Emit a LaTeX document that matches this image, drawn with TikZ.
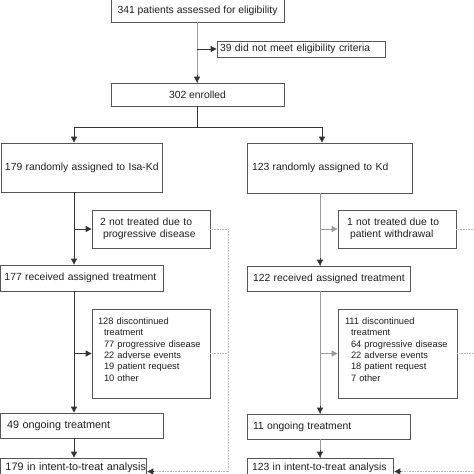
\documentclass[tikz,border=0pt]{standalone}
\usepackage{fontspec}
\setmainfont{Liberation Sans}
\usetikzlibrary{arrows.meta,calc}
\definecolor{boxc}{HTML}{555555}
\definecolor{txtc}{HTML}{1E1E1E}
\definecolor{darkl}{HTML}{333333}
\definecolor{lightl}{HTML}{9A9A9A}
\definecolor{dotl}{HTML}{BBBBBB}
\newcommand\flowboxfont{\fontsize{10.35}{12.6}\selectfont\hyphenpenalty=10000 \exhyphenpenalty=10000 }
\newcommand\smallboxfont{\fontsize{9.3}{11.35}\selectfont}
\newcommand\largeboxfont{\fontsize{10.8}{12.6}\selectfont}
\begin{document}
\begin{tikzpicture}[x=1pt,y=-1pt,
  box/.style={draw=boxc, line width=0.8pt, rectangle, inner ysep=0pt,
    text=txtc, font=\flowboxfont},
  lbox/.style={box, align=left, inner xsep=0pt},
  cbox/.style={box, align=center},
  sbox/.style={lbox, font=\flowboxfont\smallboxfont},
  bbox/.style={lbox, font=\flowboxfont\largeboxfont},
  conn/.style={draw=darkl, line width=0.9pt},
  gconn/.style={draw=lightl, line width=0.9pt},
  dconn/.style={draw=dotl, line width=0.6pt, densely dotted},
  tip/.style={-{Triangle[length=6pt,width=6pt]}},
]
\useasboundingbox (0,0) rectangle (474,474);
\fill[white] (0,0) rectangle (474,474);

% boxes (center = ((l+r)/2,(t+b)/2)); text width = box width
\node[cbox, minimum width=173pt, minimum height=23pt] (A) at (197.5,10.5) {341 patients assessed for eligibility};
\node[lbox, text width=168pt, minimum height=16pt] (B) at (301,49) {\hspace*{3pt}39 did not meet eligibility criteria};
\node[cbox, minimum width=173pt, minimum height=23pt] (C) at (197.5,94.5) {302 enrolled};
\node[lbox, text width=161pt, minimum height=49pt] (D) at (81.5,167.5) {\hspace*{4pt}179 randomly assigned to Isa-Kd};
\node[lbox, text width=165pt, minimum height=50pt] (E) at (329.5,168) {\hspace*{5pt}123 randomly assigned to Kd};
\node[lbox, text width=118pt, minimum height=38pt] (F) at (151,229) {\hspace*{8pt}2 not treated due to\\\hspace*{11pt}progressive disease};
\node[lbox, text width=118pt, minimum height=38pt] (G) at (397,229) {\hspace*{9pt}1 not treated due to\\\hspace*{12pt}patient withdrawal};
\node[lbox, text width=163pt, minimum height=26pt] (J) at (81.5,278) {\hspace*{4.5pt}177 received assigned treatment};
\node[lbox, text width=163pt, minimum height=25pt] (K) at (328.5,278.5) {\hspace*{6pt}122 received assigned treatment};
\node[sbox, text width=118pt, minimum height=89pt] (H) at (151,353.5) {\hspace*{6pt}128 discontinued\\\hspace*{12pt}treatment\\\hspace*{12pt}77 progressive disease\\\hspace*{12pt}22 adverse events\\\hspace*{12pt}19 patient request\\\hspace*{12pt}10 other\rule[-8pt]{0pt}{8pt}};
\node[sbox, text width=119pt, minimum height=89pt] (I) at (397.5,353.5) {\hspace*{7pt}111 discontinued\\\hspace*{13pt}treatment\\\hspace*{13pt}64 progressive disease\\\hspace*{13pt}22 adverse events\\\hspace*{13pt}18 patient request\\\hspace*{13pt}7 other\rule[-8pt]{0pt}{8pt}};
\node[bbox, text width=163pt, minimum height=25pt] (L) at (81.5,425.5) {\hspace*{7pt}49 ongoing treatment};
\node[lbox, text width=163pt, minimum height=25pt] (M) at (328.5,426.5) {\hspace*{6pt}11 ongoing treatment};
\node[bbox, text width=146pt, minimum height=19pt] (N) at (73,467.5) {\hspace*{5.5pt}179 in intent-to-treat analysis};
\node[lbox, text width=146pt, minimum height=19pt] (O) at (320,467.5) {\hspace*{5pt}123 in intent-to-treat analysis};

% helper coordinates
\coordinate (lx) at (74,0);
\coordinate (rx) at (320,0);
\coordinate (ex) at (322,0);
\coordinate (split) at (197,127);
\coordinate (ld) at (228,0);
\coordinate (rd) at (478,0);

% top
\draw[gconn] (A.south -| split) -- (C.north -| split);
\draw[conn,tip] (B.west -| split) -- (B.west);
\draw[conn,tip] ($(C.north -| split)+(0,-8)$) -- (C.north -| split);
\draw[conn] (C.south -| split) -- (split);
\draw[conn,tip] (split) -| (D.north -| lx);
\draw[conn,tip] (split) -| (E.north -| ex);

% left arm
\draw[conn,tip] (D.south -| lx) -- (J.north -| lx);
\draw[conn,tip] (F.west -| lx) -- (F.west);
\draw[conn,tip] (J.south -| lx) -- (L.north -| lx);
\draw[conn,tip] (H.west -| lx) -- (H.west);
\draw[conn,tip] (L.south -| lx) -- (N.north -| lx);

% right arm
\draw[gconn] (E.south -| rx) -- (K.north -| rx);
\draw[conn,tip] ($(K.north -| rx)+(0,-8)$) -- (K.north -| rx);
\draw[gconn,tip] (G.west -| rx) -- (G.west);
\draw[gconn] (K.south -| rx) -- (M.north -| rx);
\draw[conn,tip] ($(M.north -| rx)+(0,-8)$) -- (M.north -| rx);
\draw[gconn,tip] (I.west -| rx) -- (I.west);
\draw[gconn] (M.south -| rx) -- (O.north -| rx);
\draw[conn,tip] ($(O.north -| rx)+(0,-8)$) -- (O.north -| rx);

% dotted return lines
\draw[dconn] (F.east) -- (F.east -| ld) -- ($(N.east -| ld)+(0,4)$);
\draw[dconn] (H.east) -- (H.east -| ld);
\draw[dconn] ($(N.east -| ld)+(0,4)$) -- ($(N.east)+(6,4)$);
\draw[conn,tip] ($(N.east)+(8,4)$) -- ($(N.east)+(1,4)$);
\draw[dconn] (G.east) -- (G.east -| rd) -- ($(O.east -| rd)+(0,4)$);
\draw[dconn] (I.east) -- (I.east -| rd);
\draw[dconn] ($(O.east -| rd)+(0,4)$) -- ($(O.east)+(6,4)$);
\draw[conn,tip] ($(O.east)+(8,4)$) -- ($(O.east)+(1,4)$);
\end{tikzpicture}
\end{document}
